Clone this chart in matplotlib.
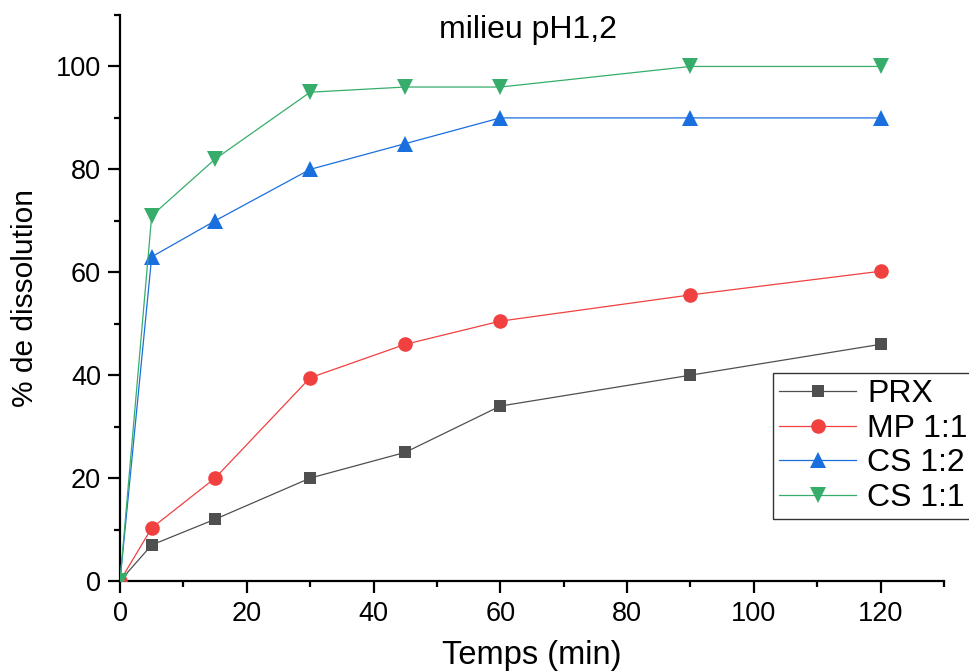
import matplotlib
matplotlib.use("Agg")
import matplotlib.pyplot as plt
from matplotlib.ticker import MultipleLocator

plt.rcParams['font.family'] = ['Liberation Sans', 'DejaVu Sans']

temps = [0, 5, 15, 30, 45, 60, 90, 120]
prx = [0, 7, 12, 20, 25, 34, 40, 46]
mp_11 = [0, 10.3, 20, 39.5, 46, 50.5, 55.6, 60.2]
cs_12 = [0, 63, 70, 80, 85, 90, 90, 90]
cs_11 = [0, 71, 82, 95, 96, 96, 100, 100]

labels = ["PRX", "MP 1:1", "CS 1:2", "CS 1:1"]
colors = ["#4f4f4f", "#f14040", "#1a6fdf", "#37ad6b"]
markers = ["s", "o", "^", "v"]
msizes = [9, 10.5, 11.5, 11.5]

fig = plt.figure(figsize=(9.69, 6.71), dpi=100)
ax = fig.add_axes([120/969, 1-581/671, (944-120)/969, (581-15)/671])

for y, lab, c, m, ms in zip([prx, mp_11, cs_12, cs_11], labels, colors, markers, msizes):
    ax.plot(temps, y, color=c, lw=0.9, marker=m, markersize=ms,
            markeredgewidth=0, label=lab, zorder=3)

ax.set_xlim(0, 130)
ax.set_ylim(0, 110)
ax.xaxis.set_major_locator(MultipleLocator(20))
ax.xaxis.set_minor_locator(MultipleLocator(10))
ax.yaxis.set_major_locator(MultipleLocator(20))
ax.yaxis.set_minor_locator(MultipleLocator(10))
ax.spines['top'].set_visible(False)
ax.spines['right'].set_visible(False)
for s in ['left', 'bottom']:
    ax.spines[s].set_linewidth(1.6)
ax.tick_params(which='major', direction='out', length=8.5, width=1.6, labelsize=19.5, pad=5)
ax.tick_params(which='minor', direction='out', length=4, width=1.6)
ax.tick_params(axis='x', which='major', pad=6)

ax.set_xlabel("Temps (min)", fontsize=23.5, labelpad=9)
ax.set_ylabel("% de dissolution", fontsize=21.5, labelpad=12)
ax.text(0.495, 1.0, "milieu pH1,2", transform=ax.transAxes, ha='center', va='top', fontsize=23)

leg = fig.legend(loc='upper left', bbox_to_anchor=(773/969, 1-373/671), fontsize=23,
                 frameon=True, fancybox=False, edgecolor='#333333', framealpha=1,
                 handlelength=2.4, labelspacing=0.14, borderpad=0.2, handletextpad=0.34,
                 borderaxespad=0)
leg.get_frame().set_linewidth(1.0)

fig.savefig("out.png", dpi=100)
